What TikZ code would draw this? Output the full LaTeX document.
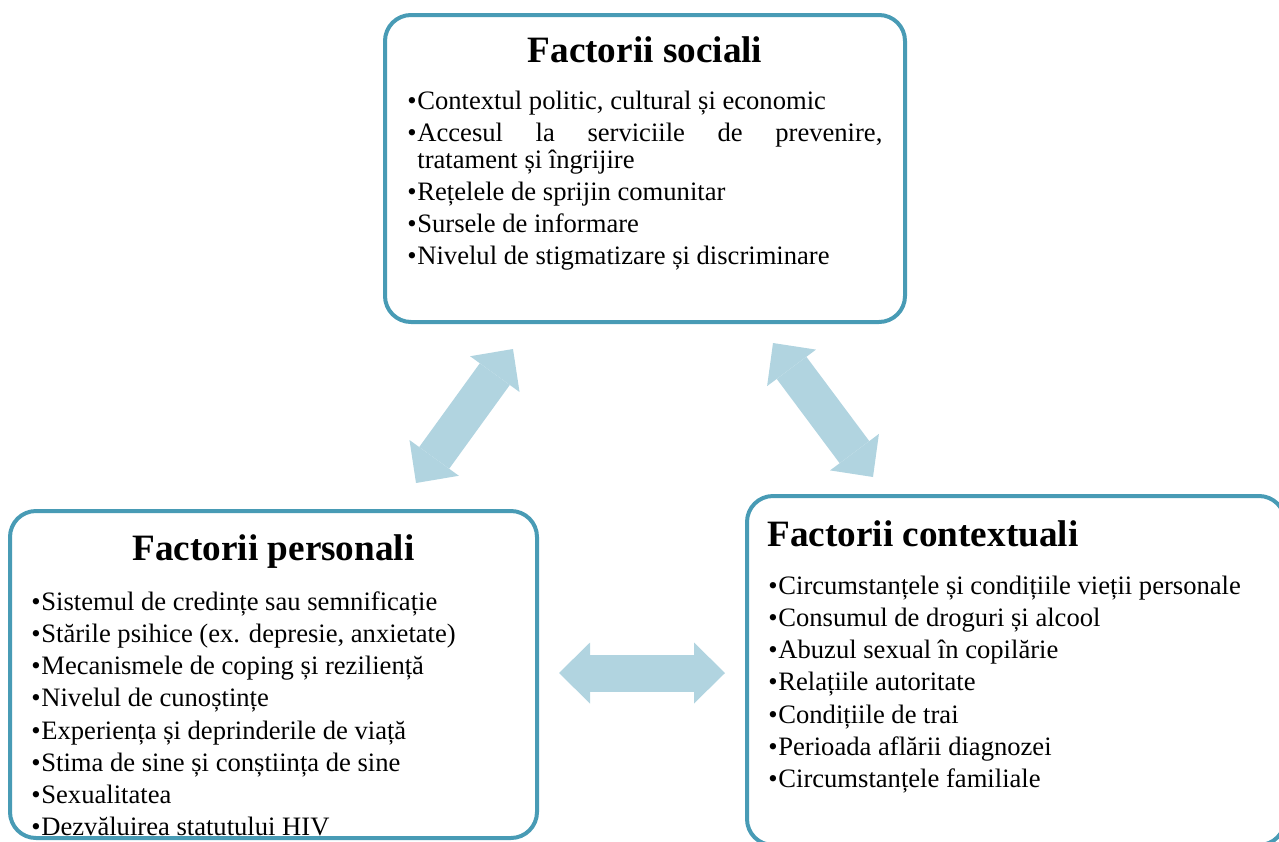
\documentclass[tikz,border=0pt]{standalone}
\usepackage{fontspec}
\setmainfont{Liberation Serif}
\usepackage{tikz}
\usetikzlibrary{positioning,calc,arrows.meta}

\definecolor{boxline}{RGB}{72,155,181}
\definecolor{arrowblue}{RGB}{177,212,224}

\newcommand{\listfont}{\fontsize{13.3}{13.4}\selectfont\hyphenpenalty=10000\exhyphenpenalty=10000\tolerance=10000\setlength{\parskip}{2.7pt}}
\newcommand{\bitem}[1]{\par\hangindent=5pt\hangafter=1\noindent\makebox[5pt][l]{\textbullet}#1\par}

\tikzset{
  factorbox/.style={draw=boxline, line width=2pt, rounded corners=13pt, fill=white},
  boxtitle/.style={font=\fontsize{18.6}{22}\selectfont\bfseries, anchor=base, inner sep=0pt},
  boxlist/.style={anchor=base west, inner sep=0pt, text width=#1, align=justify, font=\listfont},
  dblarrow/.style={draw=arrowblue, line width=18.5pt, {Triangle[length=15.5pt,width=30.5pt,line width=0pt]}-{Triangle[length=15.5pt,width=30.5pt,line width=0pt]}}
}

\begin{document}
\begin{tikzpicture}[x=0.5pt, y=-0.5pt]

\useasboundingbox (0,0) rectangle (1279,841);
\clip (0,0) rectangle (1279,841);

\node [factorbox, minimum width=260pt, minimum height=153.5pt] (social) at (645,168.5) {};
\node [factorbox, minimum width=263.5pt, minimum height=163.5pt] (personal) at (273.5,674.5) {};
\node [factorbox, minimum width=269pt, minimum height=174.5pt] (context) at (1016,670.5) {};

\node [boxtitle] (socTitle) at ([yshift=-24.5pt]social.north) {Factorii sociali};
\node [boxtitle] (persTitle) at ([yshift=-25.5pt]personal.north) {Factorii personali};
\node [boxtitle, anchor=base west] (ctxTitle) at ([xshift=11pt,yshift=-26pt]context.north west) {Factorii contextuali};

\node [boxlist=237.5pt] (socList) at ([xshift=12pt,yshift=-32pt]social.north west) {%
\bitem{Contextul politic, cultural și economic}
\bitem{Accesul la serviciile de prevenire,\linebreak tratament și îngrijire}
\bitem{Rețelele de sprijin comunitar}
\bitem{Sursele de informare}
\bitem{Nivelul de stigmatizare și discriminare}};

\node [boxlist=245pt] (persList) at ([xshift=11.5pt,yshift=-34.5pt]personal.north west) {%
\bitem{Sistemul de credințe sau semnificație}
\bitem{Stările psihice (ex. depresie, anxietate)}
\bitem{Mecanismele de coping și reziliență}
\bitem{Nivelul de cunoștințe}
\bitem{Experiența și deprinderile de viață}
\bitem{Stima de sine și conștiința de sine}
\bitem{Sexualitatea}
\bitem{Dezvăluirea statutului HIV}};

\node [boxlist=250pt] (ctxList) at ([xshift=11.5pt,yshift=-34pt]context.north west) {%
\bitem{Circumstanțele și condițiile vieții personale}
\bitem{Consumul de droguri și alcool}
\bitem{Abuzul sexual în copilărie}
\bitem{Relațiile autoritate}
\bitem{Condițiile de trai}
\bitem{Perioada aflării diagnozei}
\bitem{Circumstanțele familiale}};

\coordinate (persUp) at (416,483);
\coordinate (socLeft) at (513,349);
\coordinate (socRight) at (773,343);
\coordinate (ctxUp) at (873,477);
\coordinate (persRight) at (559,673);
\coordinate (ctxLeft) at (725,673);

\draw [dblarrow] (persUp) -- (socLeft);
\draw [dblarrow] (socRight) -- (ctxUp);
\draw [dblarrow] (persRight) -- (ctxLeft);

\end{tikzpicture}
\end{document}
